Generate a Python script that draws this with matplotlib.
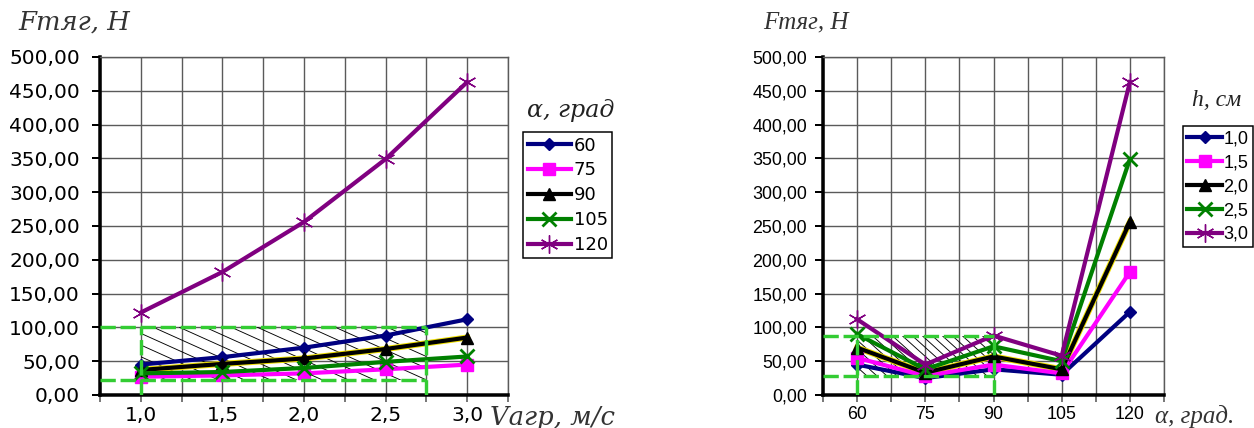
import matplotlib
matplotlib.use('Agg')
import matplotlib.pyplot as plt
import numpy as np
from matplotlib.patches import Polygon
from matplotlib.lines import Line2D
from matplotlib.transforms import IdentityTransform

# ---------------- data ----------------
# Left chart: traction force vs aggregate speed, series = angle alpha
v_labels = ['1,0', '1,5', '2,0', '2,5', '3,0']
alpha_series = ['60', '75', '90', '105', '120']
f_a60 = [45, 56, 70, 88, 112]
f_a75 = [27, 29, 32, 38, 45]
f_a90 = [37, 46, 54, 68, 85]
f_a105 = [32, 34, 40, 49, 57]
f_a120 = [122, 182, 256, 349, 463]

# Right chart: traction force vs angle alpha, series = depth h
alpha_labels = ['60', '75', '90', '105', '120']
h_series = ['1,0', '1,5', '2,0', '2,5', '3,0']
f_h10 = [45, 25, 38, 30, 123]
f_h15 = [55, 28, 45, 32, 182]
f_h20 = [70, 33, 57, 38, 256]
f_h25 = [90, 38, 72, 50, 349]
f_h30 = [112, 45, 88, 58, 463]

# highlighted (dashed, hatched) zones: category positions and force limits
left_zone_x = [1.0, 4.5]
left_zone_y = [22, 100]
right_zone_x = [1.0, 3.0]
right_zone_y = [28, 87]

y_ticks = list(range(0, 501, 50))

# ---------------- styles ----------------
styles = [
    dict(color='#000080', marker='D', ms=6, mew=1),
    dict(color='#FF00FF', marker='s', ms=9, mew=1),
    dict(color='#000000', marker='^', ms=9, mew=1),
    dict(color='#008000', marker='x', ms=10, mew=2),
    dict(color='#800080', marker=(6, 2, 0), ms=13, mew=1),
]

GREEN = '#33CC33'
GRID = '#5a5a5a'
PX = 72 / 100  # points per pixel
W, H = 1254, 428

fig = plt.figure(figsize=(12.54, 4.28), dpi=100)
axL = fig.add_axes([100/W, 33/H, 408/W, 338/H])
axR = fig.add_axes([823/W, 33/H, 341/W, 338/H])


def fmt_y(v):
    return f'{v:.2f}'.replace('.', ',')


def setup(ax, xlabels, fam, size, ypad_px):
    n = len(xlabels)
    x = np.arange(1, n + 1)
    ax.set_xlim(0.5, n + 0.5)
    ax.set_ylim(0, 500)
    ax.set_xticks(x)
    ax.set_xticklabels(xlabels, family=fam, fontsize=size)
    ax.set_xticks(np.arange(0.5, n + 0.51, 1.0), minor=True)
    ax.set_yticks(y_ticks)
    ax.set_yticklabels([fmt_y(v) for v in y_ticks], family=fam, fontsize=size)
    ax.tick_params(axis='y', direction='out', length=8 * PX, width=2 * PX,
                   pad=ypad_px * PX, colors='black')
    ax.tick_params(axis='x', which='both', direction='out', length=7 * PX,
                   width=1.6 * PX, pad=4 * PX, color=GRID)
    ax.grid(True, which='both', color=GRID, lw=1.4 * PX, zorder=0)
    ax.set_axisbelow(True)
    for s in ['top', 'right']:
        ax.spines[s].set_color(GRID)
        ax.spines[s].set_linewidth(1.4 * PX)
    ax.spines['left'].set_linewidth(3.5 * PX)
    ax.spines['bottom'].set_linewidth(3.5 * PX)
    ax.set_autoscale_on(False)
    return x


def hatch_zone(ax, xs, ys, spacing, slope):
    corners = [(xs[0], ys[0]), (xs[1], ys[0]), (xs[1], ys[1]), (xs[0], ys[1])]
    poly = Polygon(corners, closed=True, transform=ax.transData, fill=False, lw=0)
    ax.add_patch(poly)
    X0, Y0 = ax.transData.transform((xs[0], ys[0]))
    X1, Y1 = ax.transData.transform((xs[1], ys[1]))
    h = Y1 - Y0
    for s in np.arange(X0 - h / slope, X1 + spacing, spacing):
        ln = Line2D([s, s + h / slope], [Y1, Y0], transform=IdentityTransform(),
                    color='black', lw=0.9 * PX, zorder=1.5)
        ax.add_artist(ln)
        ln.set_clip_path(poly)


def dashed_zone(ax, xs, ys):
    kw = dict(color=GREEN, lw=3.4 * PX, ls=(0, (4.5, 1.4)), zorder=6,
              solid_capstyle='butt', dash_capstyle='butt')
    x_left = ax.get_xlim()[0]
    ax.plot([x_left, xs[1]], [ys[1], ys[1]], **kw)
    ax.plot([x_left, xs[1]], [ys[0], ys[0]], **kw)
    ax.plot([xs[0], xs[0]], [0, ys[1]], **kw)
    ax.plot([xs[1], xs[1]], [0, ys[1]], **kw)


def draw_series(ax, x, series, names):
    handles = []
    for vals, st, nm in zip(series, styles, names):
        if st['color'] == '#000000':
            ax.plot(x, vals, color='#f0e000', lw=4.4, zorder=3.9)
        ln, = ax.plot(x, vals, color=st['color'], lw=3.0, marker=st['marker'],
                      ms=st['ms'], mew=st['mew'], mfc=st['color'], mec=st['color'],
                      label=nm, zorder=4)
        handles.append(ln)
    return handles


# ---------------- left chart ----------------
xL = setup(axL, v_labels, 'DejaVu Sans', 14, 12)
hatch_zone(axL, left_zone_x, left_zone_y, spacing=26, slope=0.45)
hL = draw_series(axL, xL, [f_a60, f_a75, f_a90, f_a105, f_a120], alpha_series)
dashed_zone(axL, left_zone_x, left_zone_y)

legL = fig.legend(handles=hL, loc='upper left', bbox_to_anchor=(523/W, 1 - 132/H),
                  bbox_transform=fig.transFigure, frameon=True, fancybox=False,
                  edgecolor='black', framealpha=1, borderpad=0.25, borderaxespad=0,
                  handlelength=2.4, handletextpad=0.15, labelspacing=0.38,
                  prop=dict(family='DejaVu Sans', size=13))
legL.get_frame().set_linewidth(1.5 * PX)

tL_y = fig.text(18/W, 1 - 22/H, 'Fтяг, Н', family='DejaVu Serif', style='italic',
                fontsize=17, color='#333333', ha='left', va='center')
tL_leg = fig.text(527/W, 1 - 110/H, 'α, град', family='DejaVu Serif', style='italic',
                  fontsize=16, color='#222222', ha='left', va='center')
tL_x = fig.text(490/W, 1 - 418/H, 'Vагр, м/с', family='DejaVu Serif', style='italic',
                fontsize=17, color='#333333', ha='left', va='center')

# ---------------- right chart ----------------
xR = setup(axR, alpha_labels, 'Liberation Sans', 13, 8)
hatch_zone(axR, right_zone_x, right_zone_y, spacing=10, slope=0.9)
hR = draw_series(axR, xR, [f_h10, f_h15, f_h20, f_h25, f_h30], h_series)
dashed_zone(axR, right_zone_x, right_zone_y)

legR = fig.legend(handles=hR, loc='upper right', bbox_to_anchor=(1253/W, 1 - 126/H),
                  bbox_transform=fig.transFigure, frameon=True, fancybox=False,
                  edgecolor='black', framealpha=1, borderpad=0.25, borderaxespad=0,
                  handlelength=1.9, handletextpad=0.1, labelspacing=0.38,
                  prop=dict(family='Liberation Sans', size=13))
legR.get_frame().set_linewidth(1.5 * PX)

fig.text(763/W, 1 - 22/H, 'Fтяг, Н', family='Liberation Serif', style='italic',
         fontsize=18, color='#333333', ha='left', va='center')
fig.text(1192/W, 1 - 100/H, 'h, см', family='Liberation Serif', style='italic',
         fontsize=17, color='#222222', ha='left', va='center')
fig.text(1155/W, 1 - 416/H, 'α, град.', family='Liberation Serif', style='italic',
         fontsize=18, color='#333333', ha='left', va='center')

# ---------------- fit left-chart text widths to the reference layout ----------------
fig.canvas.draw()
rend = fig.canvas.get_renderer()


def fit_width(t, target_px):
    w = t.get_window_extent(rend).width
    if w > 0:
        t.set_fontsize(t.get_fontsize() * target_px / w)


for t, target in [(tL_y, 112), (tL_leg, 88), (tL_x, 125)]:
    fit_width(t, target)


def fit_ticks(ax, target_w, right_edge_px):
    labs = ax.get_yticklabels()
    w = max(l.get_window_extent(rend).width for l in labs)
    size = labs[0].get_fontsize() * target_w / w
    ax.tick_params(axis='both', labelsize=size)
    fig.canvas.draw()
    ext = max(l.get_window_extent(rend).x1 for l in ax.get_yticklabels())
    axis_x = ax.transAxes.transform((0, 0))[0]
    cur_pad_px = axis_x - 8 - ext
    pad_px = cur_pad_px + (ext - right_edge_px)
    ax.tick_params(axis='y', pad=max(pad_px, 1) * PX)


fit_ticks(axL, 70, 80)
fit_ticks(axR, 55, 807)

fig.savefig('out.png', dpi=100)
